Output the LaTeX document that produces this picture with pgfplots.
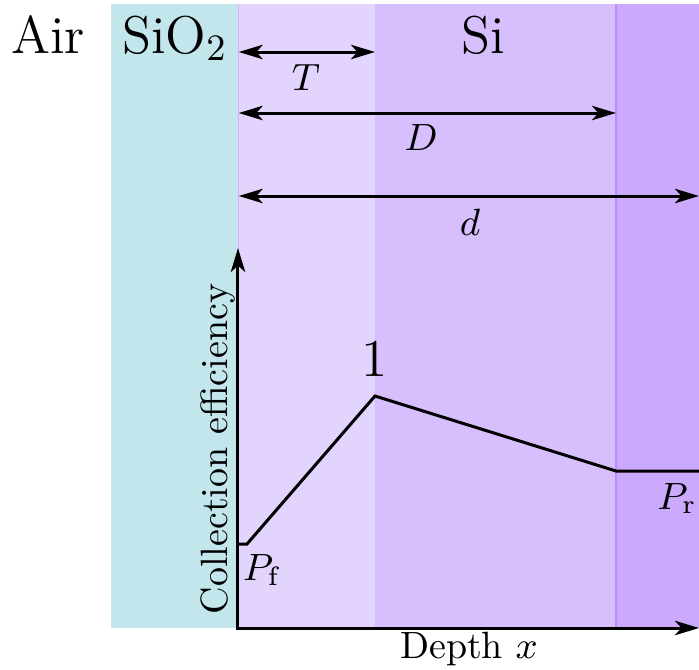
\RequirePackage{fix-cm}
\documentclass[border=0pt]{standalone}
\usepackage{pgfplots}
\pgfplotsset{compat=1.18}
\usetikzlibrary{arrows.meta}
\definecolor{oxide}{RGB}{194,230,236}
\definecolor{rone}{RGB}{227,212,254}
\definecolor{rtwo}{RGB}{215,191,253}
\definecolor{rthree}{RGB}{203,169,253}
\definecolor{bord}{RGB}{186,140,252}
\definecolor{bordl}{RGB}{205,185,250}
\newcommand{\toptext}{\fontsize{13.3}{16}\selectfont}
\newcommand{\basetext}{\fontsize{9.5}{11}\selectfont}
\tikzset{lbl/.style={inner sep=0pt, outer sep=0pt, font=\basetext}}
\begin{document}
\begin{tikzpicture}
\begin{axis}[
  name=ax, anchor=south west, at={(0,0)},
  scale only axis, width=174.75pt, height=167.25pt,
  xmin=0, xmax=699, ymin=0, ymax=669,
  hide axis, clip=false,
]
\addplot[draw=none] coordinates {(0,0) (699,669)};
% regions
\addplot[fill=oxide, draw=none] coordinates {(111,41) (238.7,41) (238.7,665) (111,665)} -- cycle;
\addplot[fill=rone, draw=none] coordinates {(238.7,41) (375,41) (375,665) (238.7,665)} -- cycle;
\addplot[fill=rtwo, draw=none] coordinates {(375,41) (616,41) (616,665) (375,665)} -- cycle;
\addplot[fill=rthree, draw=none] coordinates {(616,41) (699,41) (699,665) (616,665)} -- cycle;
\addplot[bord, line width=0.3pt] coordinates {(616,41) (616,665)};
\addplot[bordl, line width=0.3pt] coordinates {(238.7,41) (238.7,665)};
% dimension arrows
\addplot[line width=0.75pt, {Stealth[length=6pt,width=3.6pt,inset=1.6pt]}-{Stealth[length=6pt,width=3.6pt,inset=1.6pt]}] coordinates {(238.7,617) (375,617)};
\addplot[line width=0.75pt, {Stealth[length=6pt,width=3.6pt,inset=1.6pt]}-{Stealth[length=6pt,width=3.6pt,inset=1.6pt]}] coordinates {(238.7,556) (616,556)};
\addplot[line width=0.75pt, {Stealth[length=6pt,width=3.6pt,inset=1.6pt]}-{Stealth[length=6pt,width=3.6pt,inset=1.6pt]}] coordinates {(238.7,473) (699,473)};
% axes
\addplot[line width=0.75pt, {Stealth[length=6pt,width=3.6pt,inset=1.6pt]}-{Stealth[length=6pt,width=3.6pt,inset=1.6pt]}] coordinates {(238,421) (238,41) (699,41)};
% collection efficiency curve
\addplot[line width=0.75pt] coordinates {(238,125) (247,125) (375,273) (616,198) (699,198)};
% labels
\node[lbl, anchor=base, font=\toptext] at (axis cs:48,616) {Air};
\node[lbl, anchor=base, font=\toptext] at (axis cs:175,616) {SiO$_2$};
\node[lbl, anchor=base, font=\toptext] at (axis cs:483,616) {Si};
\node[lbl] at (axis cs:306,591) {$T$};
\node[lbl] at (axis cs:421,531) {$D$};
\node[lbl] at (axis cs:470,447) {$d$};
\node[lbl, anchor=base, font=\toptext] at (axis cs:375,293) {1};
\node[lbl, anchor=base west] at (axis cs:243,89) {$P_\mathrm{f}$};
\node[lbl, anchor=base east] at (axis cs:697,160) {$P_\mathrm{r}$};
\node[lbl, anchor=base, rotate=90] at (axis cs:227,220) {Collection efficiency};
\node[lbl, anchor=base] at (axis cs:469,11) {Depth $x$};
\end{axis}
\pgfresetboundingbox
\path[use as bounding box] (0,0) rectangle (174.75pt,167.25pt);
\end{tikzpicture}
\end{document}
